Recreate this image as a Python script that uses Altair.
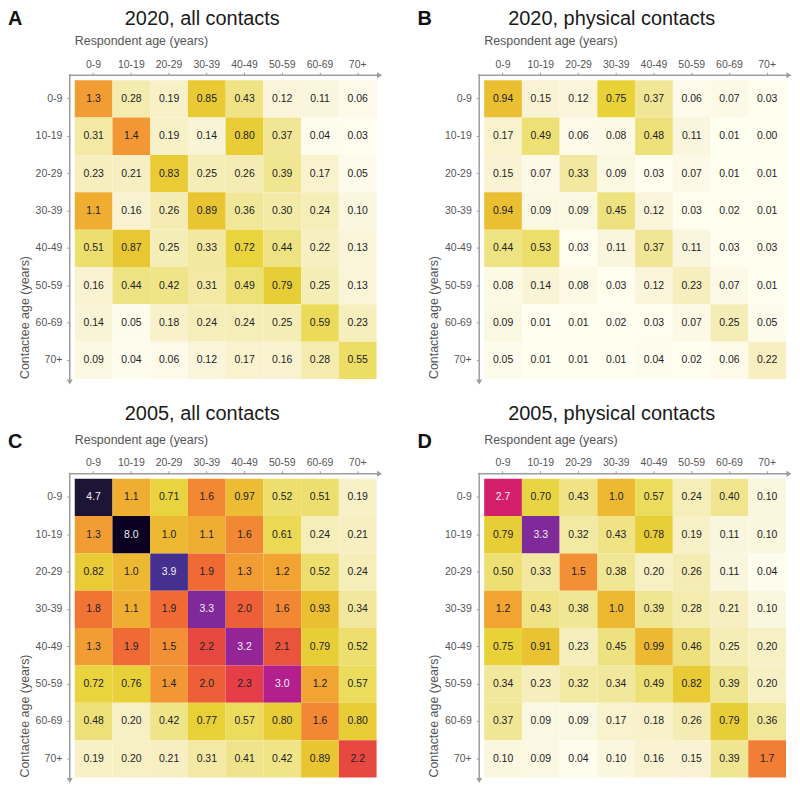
import altair as alt
import pandas as pd

FONT = "Liberation Sans"

ages = ["0-9", "10-19", "20-29", "30-39", "40-49", "50-59", "60-69", "70+"]

panel_letters = ["A", "B", "C", "D"]
panel_titles = ["2020, all contacts", "2020, physical contacts",
                "2005, all contacts", "2005, physical contacts"]

# rows = contactee age, columns = respondent age
m_2020_all = [
    [1.3, 0.28, 0.19, 0.85, 0.43, 0.12, 0.11, 0.06],
    [0.31, 1.4, 0.19, 0.14, 0.80, 0.37, 0.04, 0.03],
    [0.23, 0.21, 0.83, 0.25, 0.26, 0.39, 0.17, 0.05],
    [1.1, 0.16, 0.26, 0.89, 0.36, 0.30, 0.24, 0.10],
    [0.51, 0.87, 0.25, 0.33, 0.72, 0.44, 0.22, 0.13],
    [0.16, 0.44, 0.42, 0.31, 0.49, 0.79, 0.25, 0.13],
    [0.14, 0.05, 0.18, 0.24, 0.24, 0.25, 0.59, 0.23],
    [0.09, 0.04, 0.06, 0.12, 0.17, 0.16, 0.28, 0.55],
]
m_2020_phys = [
    [0.94, 0.15, 0.12, 0.75, 0.37, 0.06, 0.07, 0.03],
    [0.17, 0.49, 0.06, 0.08, 0.48, 0.11, 0.01, 0.00],
    [0.15, 0.07, 0.33, 0.09, 0.03, 0.07, 0.01, 0.01],
    [0.94, 0.09, 0.09, 0.45, 0.12, 0.03, 0.02, 0.01],
    [0.44, 0.53, 0.03, 0.11, 0.37, 0.11, 0.03, 0.03],
    [0.08, 0.14, 0.08, 0.03, 0.12, 0.23, 0.07, 0.01],
    [0.09, 0.01, 0.01, 0.02, 0.03, 0.07, 0.25, 0.05],
    [0.05, 0.01, 0.01, 0.01, 0.04, 0.02, 0.06, 0.22],
]
m_2005_all = [
    [4.7, 1.1, 0.71, 1.6, 0.97, 0.52, 0.51, 0.19],
    [1.3, 8.0, 1.0, 1.1, 1.6, 0.61, 0.24, 0.21],
    [0.82, 1.0, 3.9, 1.9, 1.3, 1.2, 0.52, 0.24],
    [1.8, 1.1, 1.9, 3.3, 2.0, 1.6, 0.93, 0.34],
    [1.3, 1.9, 1.5, 2.2, 3.2, 2.1, 0.79, 0.52],
    [0.72, 0.76, 1.4, 2.0, 2.3, 3.0, 1.2, 0.57],
    [0.48, 0.20, 0.42, 0.77, 0.57, 0.80, 1.6, 0.80],
    [0.19, 0.20, 0.21, 0.31, 0.41, 0.42, 0.89, 2.2],
]
m_2005_phys = [
    [2.7, 0.70, 0.43, 1.0, 0.57, 0.24, 0.40, 0.10],
    [0.79, 3.3, 0.32, 0.43, 0.78, 0.19, 0.11, 0.10],
    [0.50, 0.33, 1.5, 0.38, 0.20, 0.26, 0.11, 0.04],
    [1.2, 0.43, 0.38, 1.0, 0.39, 0.28, 0.21, 0.10],
    [0.75, 0.91, 0.23, 0.45, 0.99, 0.46, 0.25, 0.20],
    [0.34, 0.23, 0.32, 0.34, 0.49, 0.82, 0.39, 0.20],
    [0.37, 0.09, 0.09, 0.17, 0.18, 0.26, 0.79, 0.36],
    [0.10, 0.09, 0.04, 0.10, 0.16, 0.15, 0.39, 1.7],
]
matrices = [m_2020_all, m_2020_phys, m_2005_all, m_2005_phys]

color_domain = [0, 0.05, 0.15, 0.3, 0.45, 0.6, 0.75, 0.9, 1.0, 1.2, 1.5,
                1.9, 2.2, 2.7, 3.0, 3.3, 3.9, 4.7, 8.0]
color_range = ["#ffffff", "#fdfbec", "#f9f3d3", "#f3eaa8", "#eee280",
               "#ebda55", "#e8d238", "#e9c432", "#edb832", "#f1a432",
               "#f39035", "#ef6a35", "#e74840", "#d41f6b", "#b41f8e",
               "#80299a", "#45308f", "#1d1535", "#000000"]

W, H = 303, 300
GRAY = "#9d9d9d"


def long_df(matrix):
    rows = []
    for i, c in enumerate(ages):
        for j, r in enumerate(ages):
            v = matrix[i][j]
            rows.append({"contactee": c, "respondent": r, "value": v,
                         "label": f"{v:.1f}" if v >= 1 else f"{v:.2f}"})
    return pd.DataFrame(rows)


def panel(matrix, title, letter, title_y, letter_y):
    df = long_df(matrix)
    base = alt.Chart(df)
    x = alt.X("respondent:O", sort=ages,
              scale=alt.Scale(paddingInner=0, paddingOuter=0),
              axis=alt.Axis(orient="top", title=None, domain=False, offset=5,
                            tickSize=3, tickColor=GRAY, labelPadding=3,
                            labelAngle=0, labelFont=FONT, labelFontSize=10.5,
                            labelColor="#555555"))
    y = alt.Y("contactee:O", sort=ages,
              scale=alt.Scale(paddingInner=0, paddingOuter=0),
              axis=alt.Axis(orient="left", title=None, domain=False, offset=5,
                            tickSize=3, tickColor=GRAY, labelPadding=5,
                            labelFont=FONT, labelFontSize=10.5,
                            labelColor="#555555"))
    rect = base.mark_rect().encode(
        x=x, y=y,
        color=alt.Color("value:Q", legend=None,
                        scale=alt.Scale(type="linear", domain=color_domain,
                                        range=color_range, clamp=True)))
    text = base.mark_text(font=FONT, fontSize=10.5).encode(
        x=x, y=y, text="label:N",
        color=alt.when(alt.datum.value >= 2.5)
        .then(alt.value("#f4f0f4"))
        .otherwise(alt.value("#222222")))

    deco = alt.Chart(pd.DataFrame({"k": [0]}))
    hline = deco.mark_rule(color=GRAY, strokeWidth=1.5).encode(
        x=alt.value(-6), x2=alt.value(W + 2), y=alt.value(-5))
    vline = deco.mark_rule(color=GRAY, strokeWidth=1.5).encode(
        y=alt.value(-6), y2=alt.value(H + 2), x=alt.value(-5))
    harrow = deco.mark_point(shape="triangle-right", filled=True, size=35,
                             color=GRAY, opacity=1).encode(
        x=alt.value(W + 3), y=alt.value(-5))
    varrow = deco.mark_point(shape="triangle-down", filled=True, size=35,
                             color=GRAY, opacity=1).encode(
        x=alt.value(-5), y=alt.value(H + 3))
    ttl = deco.mark_text(text=title, font=FONT, fontSize=20, color="#1a1a1a",
                         align="center", baseline="middle").encode(
        x=alt.value(128), y=alt.value(title_y))
    let = deco.mark_text(text=letter, font=FONT, fontSize=20, fontWeight="bold",
                         color="#111111", align="left", baseline="middle").encode(
        x=alt.value(-67), y=alt.value(letter_y))
    xt = deco.mark_text(text="Respondent age (years)", font=FONT, fontSize=12.5,
                        color="#555555", align="left", baseline="middle").encode(
        x=alt.value(0), y=alt.value(-39))
    yt = deco.mark_text(text="Contactee age (years)", font=FONT, fontSize=12.5,
                        color="#555555", align="left", baseline="middle",
                        angle=270).encode(
        x=alt.value(-50), y=alt.value(H))
    return alt.layer(rect, text, hline, vline, harrow, varrow, ttl, let, xt, yt
                     ).properties(width=W, height=H)


panels = []
for k in range(4):
    if k < 2:
        ty, ly = -61, -61
    else:
        ty, ly = -65, -37
    panels.append(panel(matrices[k], panel_titles[k], panel_letters[k], ty, ly))

chart = alt.concat(*panels, columns=2, spacing={"row": 100, "column": 108},
                   bounds="flush").properties(padding=0).configure_view(stroke=None)

chart.save("out.html", embed_options={"renderer": "svg", "actions": False})
